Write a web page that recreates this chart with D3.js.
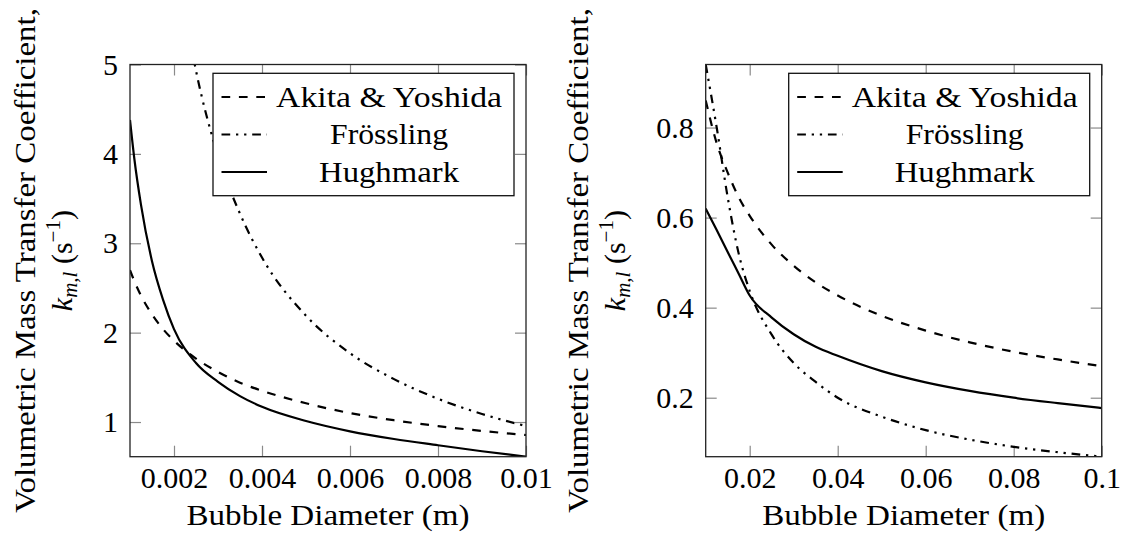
<!DOCTYPE html>
<html>
<head>
<meta charset="utf-8">
<script src="https://cdn.jsdelivr.net/npm/d3@7"></script>
<style>
  html, body { margin: 0; padding: 0; background: #fff; }
  svg { display: block; }
</style>
</head>
<body>
<svg id="chart" width="1122" height="542"></svg>
<script>
// Small bubbles: diameter (m) and volumetric mass transfer coefficient (1/s)
const smallDiameters = [0.001, 0.0011, 0.00125, 0.0015, 0.00175, 0.002, 0.0025, 0.003, 0.0035, 0.004, 0.005, 0.006, 0.007, 0.008, 0.009, 0.01];
const smallAkita     = [2.70, 2.575, 2.415, 2.205, 2.04, 1.91, 1.71, 1.56, 1.44, 1.35, 1.21, 1.10, 1.02, 0.955, 0.90, 0.855];
const smallFrossling = [14.4, 12.9, 11.1, 8.9, 7.5, 6.35, 4.93, 3.98, 3.33, 2.84, 2.19, 1.77, 1.48, 1.26, 1.09, 0.955];
const smallHughmark  = [4.38, 3.94, 3.43, 2.80, 2.37, 2.04, 1.66, 1.45, 1.29, 1.17, 1.011, 0.896, 0.81, 0.74, 0.673, 0.612];

// Large bubbles
const largeDiameters = [0.01, 0.0125, 0.015, 0.0175, 0.02, 0.025, 0.03, 0.035, 0.04, 0.05, 0.06, 0.07, 0.08, 0.09, 0.1];
const largeAkita     = [0.86, 0.765, 0.70, 0.645, 0.604, 0.54, 0.493, 0.456, 0.427, 0.382, 0.349, 0.323, 0.302, 0.285, 0.27];
const largeFrossling = [0.94, 0.80, 0.645, 0.52, 0.437, 0.34, 0.277, 0.235, 0.20, 0.158, 0.128, 0.107, 0.091, 0.079, 0.069];
const largeHughmark  = [0.62, 0.5725, 0.5235, 0.4755, 0.427, 0.378, 0.341, 0.313, 0.293, 0.259, 0.234, 0.215, 0.200, 0.188, 0.177];

const seriesNames = ["Akita & Yoshida", "Frössling", "Hughmark"];

const smallXTicks = [0.002, 0.004, 0.006, 0.008, 0.01];
const smallXTickLabels = ["0.002", "0.004", "0.006", "0.008", "0.01"];
const smallYTicks = [1, 2, 3, 4, 5];
const smallYTickLabels = ["1", "2", "3", "4", "5"];
const smallYMax = 5;

const largeXTicks = [0.02, 0.04, 0.06, 0.08, 0.1];
const largeXTickLabels = ["0.02", "0.04", "0.06", "0.08", "0.1"];
const largeYTicks = [0.2, 0.4, 0.6, 0.8];
const largeYTickLabels = ["0.2", "0.4", "0.6", "0.8"];

const xLabelText = "Bubble Diameter (m)";
const yLabelLine1 = "Volumetric Mass Transfer Coefficient,";

// ---- layout ----
const plotTop = 64.5, plotW = 396, plotH = 392.2;
const fontSize = 30;
const serif = '"Liberation Serif", "Times New Roman", serif';
const dashStyles = ["8.7 8.7", "8.7 5.8 2.3 5.8 2.3 5.8", null];
const legendTextLengths = [226, 118, 140];

const svg = d3.select("#chart");

const panels = [
  {
    id: "small", left: 130,
    diameters: smallDiameters,
    series: [smallAkita, smallFrossling, smallHughmark],
    xDomain: [d3.min(smallDiameters), d3.max(smallDiameters)],
    yDomain: [d3.min([smallAkita, smallFrossling, smallHughmark].flat()), smallYMax],
    xTicks: smallXTicks, xTickLabels: smallXTickLabels,
    yTicks: smallYTicks, yTickLabels: smallYTickLabels,
    yLab1: -95, yLab2: -58
  },
  {
    id: "large", left: 705.7,
    diameters: largeDiameters,
    series: [largeAkita, largeFrossling, largeHughmark],
    xDomain: [d3.min(largeDiameters), d3.max(largeDiameters)],
    yDomain: d3.extent([largeAkita, largeFrossling, largeHughmark].flat()),
    xTicks: largeXTicks, xTickLabels: largeXTickLabels,
    yTicks: largeYTicks, yTickLabels: largeYTickLabels,
    yLab1: -117.4, yLab2: -80.4
  }
];

panels.forEach(p => {
  const g = svg.append("g").attr("transform", `translate(${p.left},${plotTop})`);
  const x = d3.scaleLinear().domain(p.xDomain).range([0, plotW]);
  const y = d3.scaleLinear().domain(p.yDomain).range([plotH, 0]);

  g.append("clipPath").attr("id", "clip-" + p.id)
    .append("rect").attr("width", plotW).attr("height", plotH);

  const styleAxis = sel => {
    sel.attr("font-family", null).attr("font-size", null);
    sel.select(".domain").remove();
    sel.selectAll(".tick line").attr("stroke", "#8a8a8a").attr("stroke-width", 1.2);
    sel.selectAll(".tick text")
      .attr("fill", "#000")
      .style("font-family", serif)
      .style("font-size", fontSize + "px");
  };

  // inward ticks on all four sides
  g.append("g").attr("transform", `translate(0,${plotH})`)
    .call(d3.axisBottom(x).tickValues(p.xTicks)
      .tickFormat((d, i) => p.xTickLabels[i]).tickSizeInner(-11).tickSizeOuter(0).tickPadding(10.3))
    .call(styleAxis);
  g.append("g")
    .call(d3.axisTop(x).tickValues(p.xTicks).tickFormat("").tickSizeInner(-11).tickSizeOuter(0))
    .call(styleAxis);
  g.append("g")
    .call(d3.axisLeft(y).tickValues(p.yTicks)
      .tickFormat((d, i) => p.yTickLabels[i]).tickSizeInner(-11).tickSizeOuter(0).tickPadding(12))
    .call(styleAxis);
  g.append("g").attr("transform", `translate(${plotW},0)`)
    .call(d3.axisRight(y).tickValues(p.yTicks).tickFormat("").tickSizeInner(-11).tickSizeOuter(0))
    .call(styleAxis);

  // curves, clipped to the plot area
  const line = d3.line()
    .x((d, i) => x(p.diameters[i]))
    .y(d => y(d))
    .curve(d3.curveMonotoneX);

  const curves = g.append("g").attr("clip-path", `url(#clip-${p.id})`);
  p.series.forEach((vals, si) => {
    curves.append("path")
      .attr("d", line(vals))
      .attr("fill", "none")
      .attr("stroke", "#000")
      .attr("stroke-width", 2.2)
      .attr("stroke-dasharray", dashStyles[si]);
  });

  // frame
  g.append("rect").attr("width", plotW).attr("height", plotH)
    .attr("fill", "none").attr("stroke", "#222").attr("stroke-width", 1.3);

  // legend, top right
  const lw = 301, lh = 122.4;
  const lg = g.append("g").attr("transform", `translate(${plotW - 12 - lw},${8.8})`);
  lg.append("rect").attr("width", lw).attr("height", lh)
    .attr("fill", "#fff").attr("stroke", "#111").attr("stroke-width", 1.3);
  seriesNames.forEach((name, si) => {
    const ry = 23.7 + si * 37.5;
    lg.append("line")
      .attr("x1", 8.5).attr("x2", 54).attr("y1", ry).attr("y2", ry)
      .attr("stroke", "#000").attr("stroke-width", 2.2)
      .attr("stroke-dasharray", dashStyles[si]);
    lg.append("text")
      .attr("x", 176).attr("y", ry + 10)
      .attr("text-anchor", "middle")
      .style("font-family", serif)
      .style("font-size", fontSize + "px")
      .attr("textLength", legendTextLengths[si])
      .attr("lengthAdjust", "spacingAndGlyphs")
      .text(name);
  });

  // x axis title
  g.append("text")
    .attr("x", plotW / 2).attr("y", 525 - plotTop)
    .attr("text-anchor", "middle")
    .style("font-family", serif)
    .style("font-size", fontSize + "px")
    .attr("textLength", 283)
    .attr("lengthAdjust", "spacingAndGlyphs")
    .text(xLabelText);

  // y axis title, two lines
  const cy = plotH / 2;
  g.append("text")
    .attr("transform", `translate(${p.yLab1},${cy}) rotate(-90)`)
    .attr("text-anchor", "middle")
    .style("font-family", serif)
    .style("font-size", fontSize + "px")
    .attr("textLength", 505)
    .attr("lengthAdjust", "spacingAndGlyphs")
    .text(yLabelLine1);

  const t2 = g.append("text")
    .attr("transform", `translate(${p.yLab2},${cy}) rotate(-90)`)
    .attr("text-anchor", "middle")
    .style("font-family", serif)
    .style("font-size", fontSize + "px");
  t2.append("tspan").attr("font-style", "italic").text("k");
  t2.append("tspan").attr("font-style", "italic").style("font-size", "21px").attr("dy", 5).text("m,l");
  t2.append("tspan").attr("dy", -5).text(" (s");
  t2.append("tspan").style("font-size", "21px").attr("dy", -12).text("−1");
  t2.append("tspan").attr("dy", 12).text(")");
});
</script>
</body>
</html>
